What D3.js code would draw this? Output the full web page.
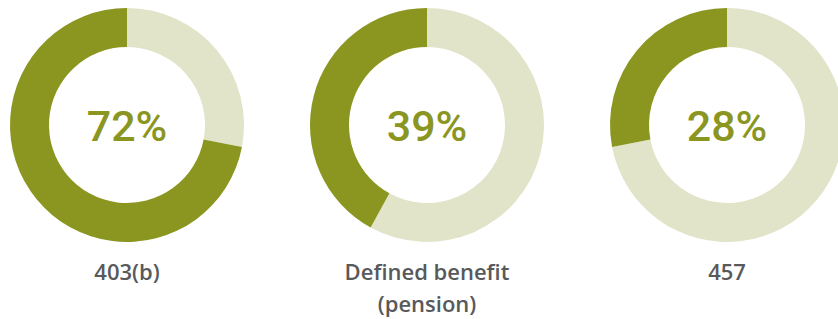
<!DOCTYPE html>
<html>
<head>
<meta charset="utf-8">
<script src="https://cdn.jsdelivr.net/npm/d3@7"></script>
<style>
    body { margin: 0; background: #fff; overflow: hidden; }
    svg { display: block; }
    .pct { font-family: Roboto, sans-serif; font-weight: 500; fill: #8a961f; }
    .label { font-family: "Open Sans", sans-serif; font-weight: 600; fill: #58595b; }
</style>
</head>
<body>
<div id="chart"></div>
<script>
const categories = ["403(b)", "Defined benefit|(pension)", "457"];
const shares = [72, 39, 28];
// the arcs as drawn in the source (the middle ring is drawn a bit wider than its label)
const arcShares = [72, 42, 28];

const width = 838;
const height = 319;
const centerY = 125;
const outerR = 117;
const innerR = 78;
const colorMain = "#8a961f";
const colorRest = "#e1e4c9";

let svg = d3.select("#chart")
    .append("svg")
        .attr("width", width)
        .attr("height", height);

let x = d3.scalePoint()
    .domain(categories)
    .range([127, 727]);

// rest first so the share ends at 12 o'clock, running counterclockwise
let pie = d3.pie()
    .sort(null)
    .value(d => d.v);

let arc = d3.arc()
    .innerRadius(innerR)
    .outerRadius(outerR);

categories.forEach((cat, i) => {
    let g = svg.append("g")
        .attr("transform", `translate(${ x(cat) }, ${ centerY })`);

    let parts = [
        { v: 100 - arcShares[i], color: colorRest },
        { v: arcShares[i], color: colorMain }
    ];

    g.selectAll("path")
        .data(pie(parts))
        .enter()
        .append("path")
            .attr("d", arc)
            .attr("fill", d => d.data.color);

    g.append("text")
        .attr("class", "pct")
        .attr("text-anchor", "middle")
        .attr("y", 16)
        .attr("font-size", 43)
        .text(`${ shares[i] }%`);

    let lines = cat.split("|");
    let label = svg.append("text")
        .attr("class", "label")
        .attr("text-anchor", "middle")
        .attr("font-size", 22);
    lines.forEach((line, j) => {
        label.append("tspan")
            .attr("x", x(cat))
            .attr("y", 280 + j * 32)
            .text(line);
    });
});
</script>
</body>
</html>
